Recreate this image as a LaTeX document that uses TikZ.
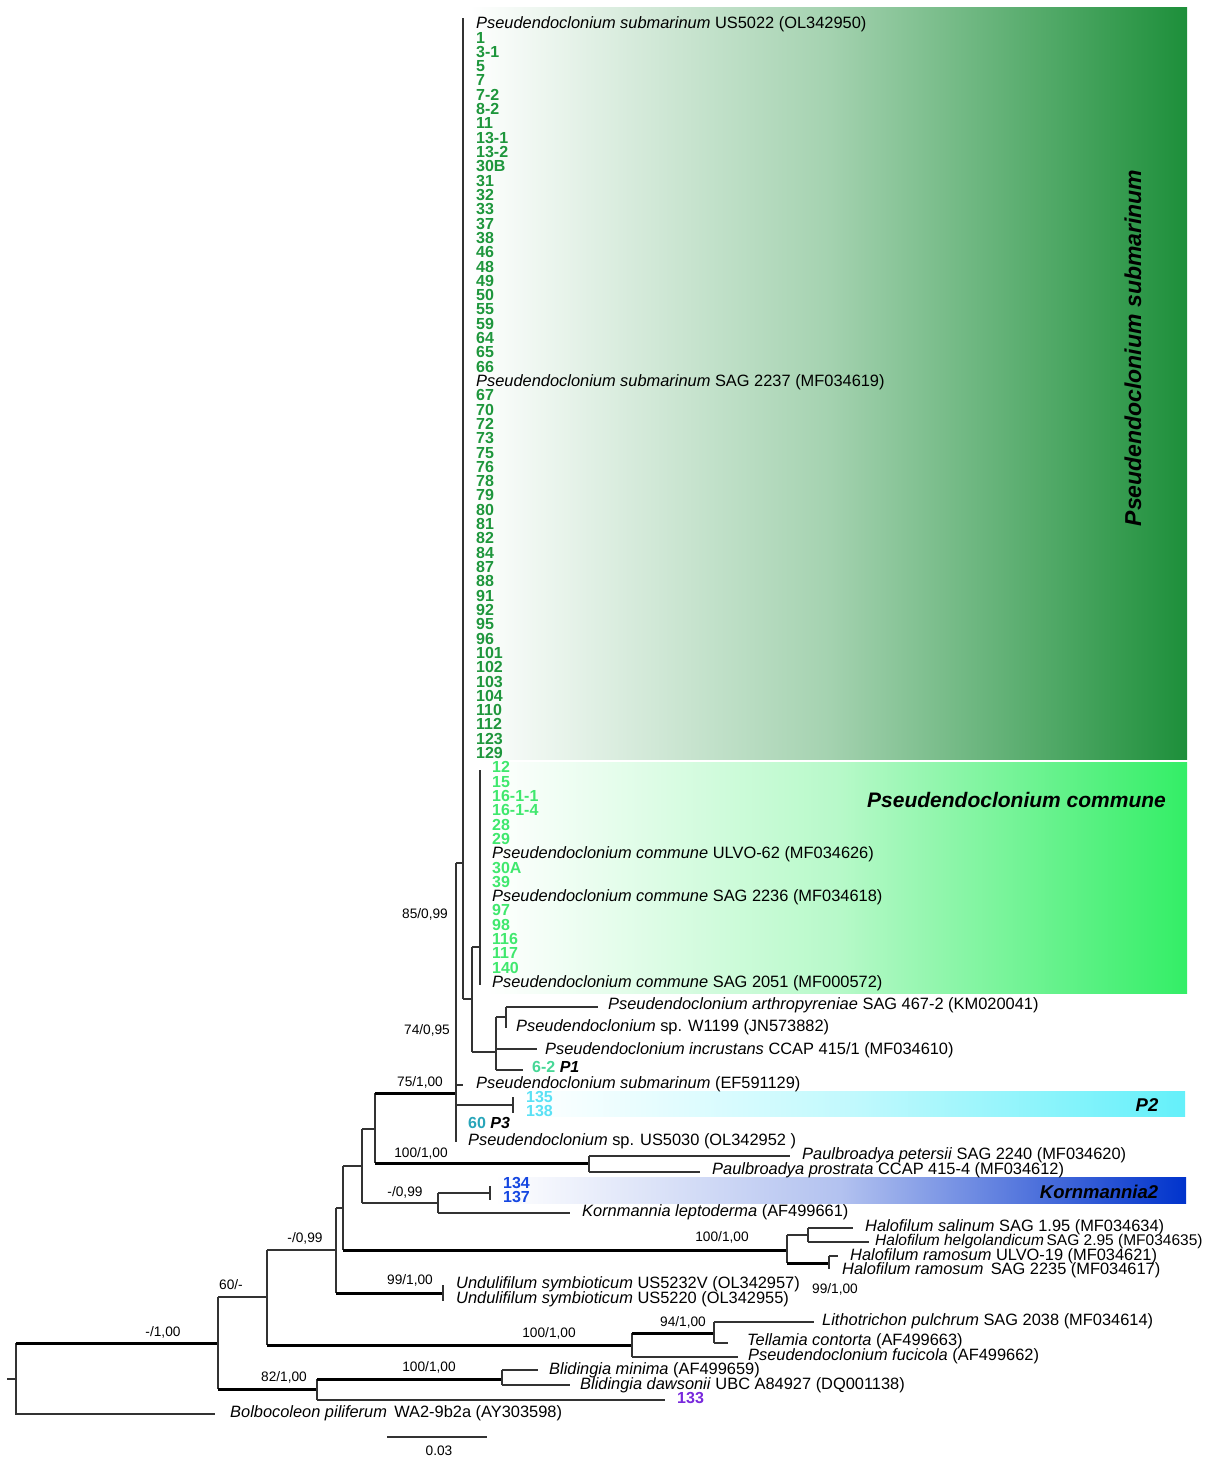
\documentclass[tikz,border=0pt]{standalone}
\usepackage{fontspec}
\setmainfont{Liberation Sans}
\definecolor{subgreen}{RGB}{29,143,58}
\definecolor{comgreen}{RGB}{51,238,102}
\definecolor{ptwocyan}{RGB}{100,240,250}
\definecolor{kornblue}{RGB}{0,51,204}
\definecolor{numsub}{RGB}{30,150,60}
\definecolor{numcom}{RGB}{64,232,110}
\definecolor{numsixtwo}{RGB}{70,215,150}
\definecolor{numcyan}{RGB}{90,225,245}
\definecolor{numsixty}{RGB}{40,165,185}
\definecolor{numblue}{RGB}{20,70,225}
\definecolor{numpurple}{RGB}{120,40,220}
\begin{document}
\begin{tikzpicture}[x=1pt,y=-1pt,
  br/.style={draw=black!80, line width=1.1pt},
  thk/.style={draw=black, line width=3pt},
  lf/.style={anchor=west, inner sep=0pt, text height=11.8pt, text depth=0pt, font=\fontsize{16.4}{18}\selectfont},
  num/.style={anchor=west, inner sep=0pt, text height=11.5pt, text depth=0pt, font=\bfseries\fontsize{16}{18}\selectfont},
  sup/.style={inner sep=0pt, font=\fontsize{13.7}{15}\selectfont},
  clade/.style={inner sep=0pt, font=\bfseries\itshape\fontsize{18.5}{20}\selectfont},
]
\useasboundingbox (0,0) rectangle (1217,1459);

% ---------- gradient boxes ----------
\path[left color=white, right color=subgreen, middle color=subgreen!40!white] (470,7) rectangle (1187,759);
\path[left color=white, right color=comgreen, middle color=comgreen!35!white] (487,762) rectangle (1187,993);
\path[left color=white, right color=ptwocyan, middle color=ptwocyan!40!white] (520,1091) rectangle (1185,1116);
\path[left color=white, right color=kornblue, middle color=kornblue!30!white] (495,1177) rectangle (1186,1203);

\node[inner sep=0pt, rotate=90, font=\bfseries\itshape\fontsize{23}{25}\selectfont] (labsub) at (1133,348) {Pseudendoclonium submarinum};
\node[inner sep=0pt, anchor=west, font=\bfseries\itshape\fontsize{21}{23}\selectfont] (labcom) at (867,800) {Pseudendoclonium commune};
\node[clade] (labp2) at (1147,1105) {P2};
\node[clade] (labkorn) at (1099,1192) {Kornmannia2};

% ---------- submarinum leaves ----------
\node[lf] (us5022) at (476,23) {\textit{Pseudendoclonium submarinum} US5022 (OL342950)};
\foreach \t [count=\i] in {1,3-1,5,7,7-2,8-2,11,13-1,13-2,30B,31,32,33,37,38,46,48,49,50,55,59,64,65,66}
  \node[num, text=numsub] (sa\i) at (476,{23+14.31*\i}) {\t};
\node[lf] (sag2237) at (476,{23+14.31*25}) {\textit{Pseudendoclonium submarinum} SAG 2237 (MF034619)};
\foreach \t [count=\i from 26] in {67,70,72,73,75,76,78,79,80,81,82,84,87,88,91,92,95,96,101,102,103,104,110,112,123,129}
  \node[num, text=numsub] (sb\i) at (476,{23+14.31*\i}) {\t};

% ---------- commune leaves ----------
\foreach \t [count=\i from 52] in {12,15,16-1-1,16-1-4,28,29}
  \node[num, text=numcom] (ca\i) at (492,{23+14.31*\i}) {\t};
\node[lf] (ulvo62) at (492,{23+14.31*58}) {\textit{Pseudendoclonium commune} ULVO-62 (MF034626)};
\foreach \t [count=\i from 59] in {30A,39}
  \node[num, text=numcom] (cb\i) at (492,{23+14.31*\i}) {\t};
\node[lf] (sag2236) at (492,{23+14.31*61}) {\textit{Pseudendoclonium commune} SAG 2236 (MF034618)};
\foreach \t [count=\i from 62] in {97,98,116,117,140}
  \node[num, text=numcom] (cc\i) at (492,{23+14.31*\i}) {\t};
\node[lf] (sag2051) at (492,{23+14.31*67}) {\textit{Pseudendoclonium commune} SAG 2051 (MF000572)};

% ---------- other leaves ----------
\node[lf] (arth) at (608,1004) {\textit{Pseudendoclonium arthropyreniae} SAG 467-2 (KM020041)};
\node[lf] (w1199) at (516,1026) {\textit{Pseudendoclonium} sp. W1199 (JN573882)};
\node[lf] (incr) at (545,1049) {\textit{Pseudendoclonium incrustans} CCAP 415/1 (MF034610)};
\node[num] (p1) at (532,1067) {\textcolor{numsixtwo}{6-2} \textit{P1}};
\node[lf] (ef59) at (476,1083) {\textit{Pseudendoclonium submarinum} (EF591129)};
\node[num, text=numcyan] (n135) at (526,1097) {135};
\node[num, text=numcyan] (n138) at (526,1111) {138};
\node[num] (p3) at (468,1123) {\textcolor{numsixty}{60} \textit{P3}};
\node[lf] (us5030) at (468,1140) {\textit{Pseudendoclonium} sp. US5030 (OL342952 )};
\node[lf] (pete) at (802,1154) {\textit{Paulbroadya petersii} SAG 2240 (MF034620)};
\node[lf] (pros) at (712,1169) {\textit{Paulbroadya prostrata} CCAP 415-4 (MF034612)};
\node[num, text=numblue] (n134) at (503,1183) {134};
\node[num, text=numblue] (n137) at (503,1197) {137};
\node[lf] (lept) at (582,1211) {\textit{Kornmannia leptoderma} (AF499661)};
\node[lf] (sali) at (865,1226) {\textit{Halofilum salinum} SAG 1.95 (MF034634)};
\node[lf, font=\fontsize{15.5}{17}\selectfont] (helg) at (875,1240) {\textit{Halofilum helgolandicum}\,SAG 2.95 (MF034635)};
\node[lf] (ramu) at (850,1255) {\textit{Halofilum ramosum} ULVO-19 (MF034621)};
\node[lf] (rams) at (842,1269) {\textit{Halofilum ramosum}\, SAG 2235 (MF034617)};
\node[lf] (und1) at (456,1283) {\textit{Undulifilum symbioticum} US5232V (OL342957)};
\node[lf] (und2) at (456,1298) {\textit{Undulifilum symbioticum} US5220 (OL342955)};
\node[lf] (lith) at (822,1320) {\textit{Lithotrichon pulchrum} SAG 2038 (MF034614)};
\node[lf] (tell) at (747,1340) {\textit{Tellamia contorta} (AF499663)};
\node[lf] (fuci) at (748,1355) {\textit{Pseudendoclonium fucicola} (AF499662)};
\node[lf] (mini) at (549,1369) {\textit{Blidingia minima} (AF499659)};
\node[lf] (daws) at (580,1384) {\textit{Blidingia dawsonii} UBC A84927 (DQ001138)};
\node[num, text=numpurple] (n133) at (677,1398) {133};
\node[lf] (bolb) at (230,1412) {\textit{Bolbocoleon piliferum}\, WA2-9b2a (AY303598)};

% ---------- support values ----------
\node[sup] (s1) at (163,1332) {-/1,00};
\node[sup] (s2) at (231,1285) {60/-};
\node[sup] (s3) at (284,1377) {82/1,00};
\node[sup] (s4) at (305,1238) {-/0,99};
\node[sup] (s5) at (549,1333) {100/1,00};
\node[sup] (s6) at (683,1322) {94/1,00};
\node[sup] (s7) at (429,1367) {100/1,00};
\node[sup] (s8) at (410,1280) {99/1,00};
\node[sup] (s9) at (722,1237) {100/1,00};
\node[sup] (s10) at (835,1289) {99/1,00};
\node[sup] (s11) at (405,1192) {-/0,99};
\node[sup] (s12) at (421,1153) {100/1,00};
\node[sup] (s13) at (420,1082) {75/1,00};
\node[sup] (s14) at (427,1030) {74/0,95};
\node[sup] (s15) at (425,914) {85/0,99};

% ---------- branches ----------
\draw[br] (7,1379) -- (16,1379);
\draw[br] (16,1343) -- (16,1414) -- (215,1414);
\draw[thk] (16,1343) -- (218,1343);
\draw[br] (218,1297) -- (218,1389);
\draw[br] (218,1297) -- (267,1297);
\draw[thk] (218,1389) -- (317,1389);
\draw[br] (267,1250) -- (267,1345);
\draw[br] (267,1250) -- (336,1250);
\draw[thk] (267,1345) -- (632,1345);
\draw[br] (336,1208) -- (336,1293);
\draw[br] (336,1208) -- (343,1208);
\draw[thk] (336,1293) -- (443,1293);
\draw[br] (443,1285) -- (443,1301);
\draw[br] (343,1166) -- (343,1250);
\draw[thk] (343,1250) -- (787,1250);
% Halofilum
\draw[br] (787,1235) -- (787,1263);
\draw[br] (787,1235) -- (808,1235);
\draw[br] (808,1228) -- (808,1242);
\draw[br] (808,1228) -- (853,1228);
\draw[br] (808,1242) -- (869,1242);
\draw[thk] (787,1263) -- (829,1263);
\draw[br] (829,1256) -- (829,1269);
\draw[br] (829,1256) -- (838,1256);
% Paulbroadya / Kornmannia
\draw[br] (343,1166) -- (362,1166);
\draw[br] (362,1129) -- (362,1203);
\draw[br] (362,1129) -- (375,1129);
\draw[br] (375,1093) -- (375,1163);
\draw[thk] (375,1093) -- (456,1093);
\draw[thk] (375,1163) -- (589,1163);
\draw[br] (589,1156) -- (589,1172);
\draw[br] (589,1156) -- (790,1156);
\draw[br] (589,1172) -- (700,1172);
\draw[br] (362,1203) -- (438,1203);
\draw[br] (438,1193) -- (438,1213);
\draw[br] (438,1193) -- (490,1193);
\draw[br] (490,1186) -- (490,1200);
\draw[br] (438,1213) -- (570,1213);
% Pseudendoclonium
\draw[br] (456,863) -- (456,1142);
\draw[br] (456,1085) -- (463,1085);
\draw[br] (456,1105) -- (513,1105);
\draw[br] (513,1097) -- (513,1113);
\draw[br] (456,863) -- (463,863);
\draw[br] (463,18) -- (463,999);
\draw[br] (463,999) -- (472,999);
\draw[br] (472,947) -- (472,1052);
\draw[br] (472,947) -- (480,947);
\draw[br] (480,770) -- (480,985);
\draw[br, line width=1.6pt] (472,1052) -- (496,1052);
\draw[br] (496,1017) -- (496,1070);
\draw[br] (496,1017) -- (506,1017);
\draw[br] (506,1007) -- (506,1028);
\draw[br] (506,1007) -- (598,1007);
\draw[br] (496,1049) -- (537,1049);
\draw[br] (496,1070) -- (523,1070);
% Lithotrichon
\draw[br] (632,1333) -- (632,1357);
\draw[thk] (632,1333) -- (714,1333);
\draw[br] (714,1322) -- (714,1343);
\draw[br] (714,1322) -- (814,1322);
\draw[br] (714,1343) -- (728,1343);
\draw[br] (632,1357) -- (738,1357);
% Blidingia
\draw[br] (317,1379) -- (317,1400);
\draw[thk] (317,1379) -- (502,1379);
\draw[br] (502,1370) -- (502,1385);
\draw[br] (502,1370) -- (538,1370);
\draw[br] (502,1385) -- (570,1385);
\draw[br] (317,1400) -- (665,1400);

% scale bar
\draw[br] (387,1437) -- (487,1437);
\node[sup] (scale) at (439,1451) {0.03};
\end{tikzpicture}
\end{document}
